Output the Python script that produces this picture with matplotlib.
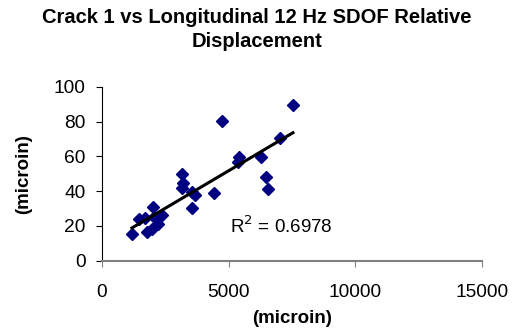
import numpy as np
import matplotlib
matplotlib.use("Agg")
import matplotlib.pyplot as plt

plt.rcParams['font.family'] = ['Liberation Sans', 'DejaVu Sans']

# crack displacement (x) vs SDOF relative displacement (y), both microin
x_vals = [1190, 1452, 1718, 1786, 1984, 2024, 2048, 2206, 2381,
          3175, 3214, 3175, 3571, 3675, 3571, 4429, 4722,
          5421, 5381, 6282, 6480, 6548, 7036, 7540]
y_vals = [15.2, 23.8, 24.5, 16.7, 18.2, 31.0, 25.3, 21.1, 26.4,
          49.8, 44.5, 41.6, 39.7, 37.8, 30.0, 38.7, 80.5,
          59.8, 56.9, 59.4, 47.9, 41.2, 70.3, 89.5]
r2_text = "R$^2$ = 0.6978"
x_ticks = [0, 5000, 10000, 15000]
y_ticks = [0, 20, 40, 60, 80, 100]

x = np.array(x_vals)
y = np.array(y_vals)

fig = plt.figure(figsize=(5.14, 3.35), dpi=100)
ax = fig.add_axes([0.198, 0.222, 0.74, 0.519])

ax.plot(x, y, 'D', color='#000080', ms=6, mec='#000080')

# linear trend line
coef = np.polyfit(x, y, 1)
xl = np.array([x.min(), x.max()])
ax.plot(xl, np.polyval(coef, xl), color='black', lw=2.2)

ax.text(5050, 16, r2_text, fontsize=13.5)

ax.set_xlim(0, 15000)
ax.set_ylim(0, 100)
ax.set_xticks(x_ticks)
ax.set_yticks(y_ticks)
ax.tick_params(labelsize=13.8, direction='out', length=4.5)
ax.tick_params(axis='x', colors='#808080', labelcolor='black', pad=12)
ax.tick_params(axis='y', pad=7)
ax.spines['top'].set_visible(False)
ax.spines['right'].set_visible(False)
ax.spines['bottom'].set_color('#808080')
ax.spines['bottom'].set_linewidth(1.5)

ax.set_xlabel("(microin)", fontsize=13.5, fontweight='bold', labelpad=7)
ax.set_ylabel("(microin)", fontsize=13.5, fontweight='bold', labelpad=16)
fig.suptitle("Crack 1 vs Longitudinal 12 Hz SDOF Relative\nDisplacement",
             fontsize=14.5, fontweight='bold', y=0.975, linespacing=1.3)

fig.savefig("out.png", dpi=100)
